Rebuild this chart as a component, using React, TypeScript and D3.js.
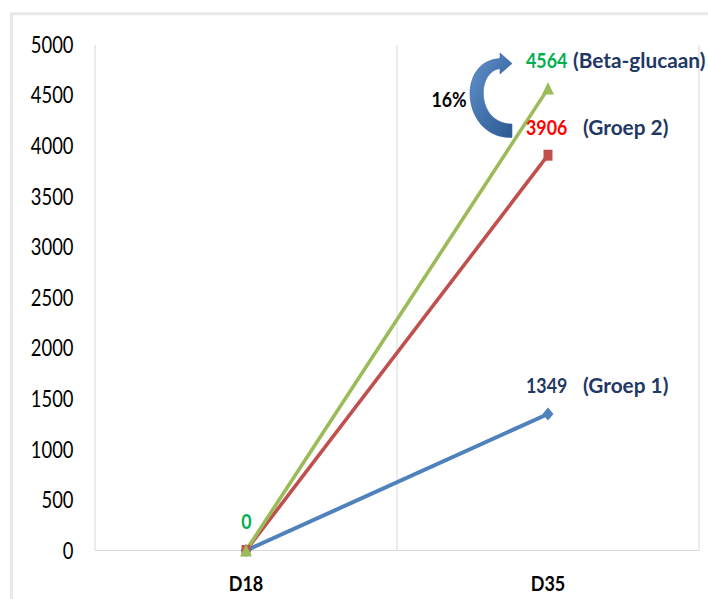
import React from "react";
import * as d3 from "d3";

const categories = ["D18", "D35"];
const groep1 = [0, 1349];
const groep2 = [0, 3906];
const betaGlucaan = [0, 4564];
const yTicks = [0, 500, 1000, 1500, 2000, 2500, 3000, 3500, 4000, 4500, 5000];
const seriesNames = ["(Groep 1)", "(Groep 2)", "(Beta-glucaan)"];
const annotationText = "16%";

const W = 708;
const H = 599;
const FONT = "Lato, 'Open Sans', 'DejaVu Sans', sans-serif";

function SText(props: any) {
  const { x, y, sx = 1, children, anchor = "start", ...rest } = props;
  return (
    <text
      transform={`translate(${x},${y}) scale(${sx},1)`}
      textAnchor={anchor}
      fontFamily={FONT}
      {...rest}
    >
      {children}
    </text>
  );
}

export default function App() {
  const left = 95;
  const right = 699;
  const top = 44.5;
  const bottom = 550.5;

  const x = d3.scaleBand<string>().domain(categories).range([left, right]).padding(0);
  const y = d3.scaleLinear().domain([0, 5000]).range([bottom, top]);
  const cx = (c: string) => (x(c) as number) + x.bandwidth() / 2;

  const series = [
    { name: seriesNames[0], values: groep1, color: "#4F81BD", width: 4, marker: "diamond", numColor: "#1F3864", gap: 35 },
    { name: seriesNames[1], values: groep2, color: "#C0504D", width: 3.6, marker: "square", numColor: "#FF0000", gap: 35 },
    { name: seriesNames[2], values: betaGlucaan, color: "#9BBB59", width: 3.6, marker: "triangle", numColor: "#00B050", gap: 25 },
  ];

  const line = d3
    .line<number>()
    .x((_, i) => cx(categories[i]))
    .y((v) => y(v));

  const markerPath = (m: string) => {
    if (m === "diamond") return "M0,-6.5L5.5,0L0,6.5L-5.5,0Z";
    if (m === "square") return "M-4.5,-5.5L4.5,-5.5L4.5,5.5L-4.5,5.5Z";
    return "M0,-6.5L6,6L-6,6Z";
  };

  const last = categories.length - 1;
  const xEnd = cx(categories[last]);

  // curved arrow anchored near the top data labels
  const ax = xEnd - 36;
  const arrowPath =
    `M${ax},${137.5} C${ax - 50},${139} ${ax - 57},${61} ${ax - 12},${58.5} ` +
    `L${ax - 12},${53} L${ax},${63.5} L${ax - 12},${74} L${ax - 12},${68.7} ` +
    `C${ax - 36},${71} ${ax - 36},${124} ${ax},${124} Z`;

  return (
    <svg width={W} height={H} style={{ position: "absolute", left: 0, top: 0, background: "#fff" }}>
      <defs>
        <linearGradient id="arrowGrad" x1="0" y1="0" x2="1" y2="1">
          <stop offset="0" stopColor="#6593CC" />
          <stop offset="0.5" stopColor="#4573AE" />
          <stop offset="1" stopColor="#2E5A92" />
        </linearGradient>
      </defs>
      {/* outer frame */}
      <path d={`M11.5,${H + 2} L11.5,13.7 L${W + 2},13.7`} fill="none" stroke="#E8E8E8" strokeWidth={3} />

      {/* vertical gridlines */}
      {[left, (x(categories[last]) as number), right].map((gx, i) => (
        <line key={i} x1={gx} x2={gx} y1={top + 0.5} y2={bottom} stroke="#D9D9D9" strokeWidth={1} />
      ))}
      {/* x axis */}
      <line x1={left} x2={right} y1={y(0)} y2={y(0)} stroke="#D9D9D9" strokeWidth={1.2} />

      {/* y tick labels */}
      {yTicks.map((t) => (
        <SText key={t} x={73.5} y={y(t) + 8.3} sx={0.8} anchor="end" fontSize={23} fill="#000">
          {String(t)}
        </SText>
      ))}

      {/* x labels */}
      {categories.map((c) => (
        <SText key={c} x={cx(c)} y={590.5} sx={0.9} anchor="middle" fontSize={20} fontWeight={700} fill="#000">
          {c}
        </SText>
      ))}

      {/* lines */}
      {series.map((s) => (
        <path key={s.name} d={line(s.values) || ""} fill="none" stroke={s.color} strokeWidth={s.width} />
      ))}
      {/* markers */}
      {series.map((s) =>
        s.values.map((v, i) => (
          <path
            key={s.name + i}
            d={markerPath(s.marker)}
            transform={`translate(${cx(categories[i])},${y(v)})`}
            fill={s.color}
          />
        ))
      )}

      {/* data labels at end */}
      {series.map((s) => (
        <g key={"lbl" + s.name}>
          <SText x={xEnd - 22} y={y(s.values[last]) - 20.5} sx={0.89} fontSize={20} fontWeight={700} fill={s.numColor}>
            {String(s.values[last])}
          </SText>
          <SText x={xEnd + s.gap} y={y(s.values[last]) - 20.5} sx={1.04} fontSize={20} fontWeight={700} fill="#1F3864">
            {s.name}
          </SText>
        </g>
      ))}

      {/* zero label */}
      <SText x={cx(categories[0]) + 0.5} y={y(betaGlucaan[0]) - 21.5} sx={0.89} anchor="middle" fontSize={20} fontWeight={700} fill="#00B050">
        {String(betaGlucaan[0])}
      </SText>

      {/* curved arrow and percentage */}
      <path d={arrowPath} fill="url(#arrowGrad)" stroke="#3A6AA3" strokeWidth={0.6} />
      <SText x={ax - 63} y={107} sx={0.89} anchor="middle" fontSize={20} fontWeight={700} fill="#000">
        {annotationText}
      </SText>
    </svg>
  );
}
